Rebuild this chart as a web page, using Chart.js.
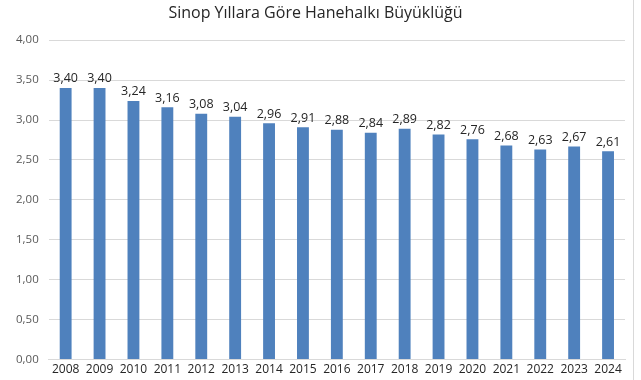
<!DOCTYPE html>
<html lang="tr">
  <head>
    <meta charset="UTF-8" />
    <title>Sinop Yıllara Göre Hanehalkı Büyüklüğü</title>
    <script src="https://cdn.jsdelivr.net/npm/chart.js@4"></script>
    <style>
      html, body { margin: 0; padding: 0; background: #fff; }
      .wrap { width: 634px; height: 380px; position: relative; box-sizing: border-box; border-right: 1px solid #d9d9d9; }
    </style>
  </head>
  <body>
    <div class="wrap">
      <canvas id="sizeChart"></canvas>
    </div>

    <script>
      const years = ["2008", "2009", "2010", "2011", "2012", "2013", "2014", "2015", "2016",
        "2017", "2018", "2019", "2020", "2021", "2022", "2023", "2024"];
      const householdSize = [3.40, 3.40, 3.24, 3.16, 3.08, 3.04, 2.96, 2.91, 2.88,
        2.84, 2.89, 2.82, 2.76, 2.68, 2.63, 2.67, 2.61];

      const fmt = (v) => v.toFixed(2).replace(".", ",");

      // draw value labels above each bar
      const valueLabels = {
        id: "valueLabels",
        afterDatasetsDraw(chart) {
          const ctx = chart.ctx;
          const meta = chart.getDatasetMeta(0);
          ctx.save();
          ctx.font = "12.5px 'Open Sans', sans-serif";
          ctx.fillStyle = "#262626";
          ctx.textAlign = "center";
          ctx.textBaseline = "bottom";
          meta.data.forEach((bar, i) => {
            ctx.fillText(fmt(householdSize[i]), bar.x, bar.y - 3);
          });
          ctx.restore();
        },
      };

      const ctx = document.getElementById("sizeChart").getContext("2d");
      new Chart(ctx, {
        type: "bar",
        data: {
          labels: years,
          datasets: [
            {
              label: "Hanehalkı Büyüklüğü",
              data: householdSize,
              backgroundColor: "#4f81bd",
              categoryPercentage: 0.35,
              barPercentage: 1,
            },
          ],
        },
        options: {
          responsive: true,
          maintainAspectRatio: false,
          animation: false,
          layout: { padding: { left: 6, right: 8, top: 0, bottom: 0 } },
          plugins: {
            legend: { display: false },
            tooltip: { enabled: false },
            title: {
              display: true,
              text: "Sinop Yıllara Göre Hanehalkı Büyüklüğü",
              color: "#262626",
              font: { family: "'Open Sans', sans-serif", size: 16, weight: "normal" },
              padding: { top: 4, bottom: 17 },
            },
          },
          scales: {
            x: {
              grid: { display: false, drawTicks: false },
              border: { color: "#d9d9d9" },
              ticks: {
                color: "#262626",
                font: { family: "'Open Sans', sans-serif", size: 12 },
                maxRotation: 0,
                autoSkip: false,
                padding: 3,
              },
            },
            y: {
              min: 0,
              max: 4,
              grid: { color: "#d9d9d9", drawTicks: false },
              border: { display: false },
              ticks: {
                stepSize: 0.5,
                color: "#595959",
                font: { family: "'Open Sans', sans-serif", size: 11.5 },
                padding: 10,
                callback: (v) => fmt(v),
              },
            },
          },
        },
        plugins: [valueLabels],
      });
    </script>
  </body>
</html>
